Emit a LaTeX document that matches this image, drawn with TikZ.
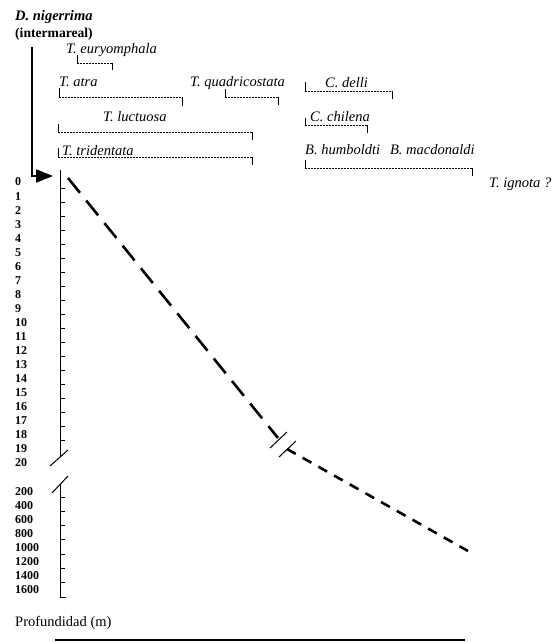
\documentclass[tikz,border=0pt]{standalone}
\usepackage{fontspec}
\setmainfont{Liberation Serif}
\usetikzlibrary{arrows.meta}
\begin{document}
\begin{tikzpicture}[x=1pt,y=-1pt,
  sp/.style={font=\fontsize{14.5}{16}\selectfont\itshape, inner sep=0pt, anchor=base west},
  hd/.style={font=\fontsize{13.6}{15}\selectfont\bfseries, inner sep=0pt, anchor=base west},
  num/.style={font=\fontsize{12}{13}\selectfont\bfseries, inner sep=0pt, anchor=west},
  rng/.style={line width=0.8pt, dash pattern=on 2.2pt off 0.8pt},
  rtick/.style={line width=0.8pt},
  axis/.style={line width=0.9pt},
  brk/.style={line width=1pt},
  longd/.style={line width=2.6pt, dash pattern=on 19pt off 10pt},
  shortd/.style={line width=2.6pt, dash pattern=on 10pt off 8pt}]
\useasboundingbox (0,0) rectangle (557,643);

% range bracket macro: xL, xR, y, ytop, ybot
\newcommand\rangebar[5]{%
  \draw[rtick] (#1,#4) -- (#1,#3);
  \draw[rng] (#1,#3) -- (#2,#3);
  \draw[rtick] (#2,#3) -- (#2,#5);}

% header and arrow
\node[sp, font=\fontsize{14.5}{16}\selectfont\bfseries\itshape] (dn) at (15,20) {D. nigerrima};
\node[hd] (im) at (15,37) {(intermareal)};
\coordinate (a0) at (32,47);
\coordinate (a1) at (32,176);
\coordinate (a2) at (53,176);
\draw[line width=2.4pt, -{Triangle[length=17pt,width=13pt]}] (a0) -- (a1) -- (a2);

% species labels
\node[sp] (eu) at (66,53) {T. euryomphala};
\node[sp] (at) at (59,86) {T. atra};
\node[sp] (qu) at (190,86) {T. quadricostata};
\node[sp] (de) at (325,87) {C. delli};
\node[sp] (ch) at (310,121) {C. chilena};
\node[sp] (lu) at (103,121) {T. luctuosa};
\node[sp] (tr) at (62,155) {T. tridentata};
\node[sp] (bh) at (305,154) {B. humboldti\hspace{10pt}B. macdonaldi};
\node[sp] (ig) at (489,187) {T. ignota ?};

% brackets
\rangebar{77}{112}{63}{55}{70}
\rangebar{59}{182}{97}{88}{106}
\rangebar{225}{278}{97}{89}{105}
\rangebar{305}{392}{91}{82}{99}
\rangebar{305}{367}{125}{118}{133}
\rangebar{58}{252}{132}{124}{140}
\rangebar{58}{252}{157}{148}{165}
\rangebar{305}{472}{168}{160}{176}

% upper axis
\coordinate (ut) at (60,170);
\coordinate (ub) at (60,457);
\draw[axis] (ut) -- (ub);
\foreach \k in {0,...,18} \draw[axis] (60,188+14.05*\k) -- ++(5,0);
\foreach \k in {0,...,20} \node[num] (u\k) at (15,182+14.05*\k) {\k};
\draw[brk] (50,466) -- (68,450);
\draw[brk] (52,493) -- (68,476);

% lower axis
\coordinate (lt) at (60,484);
\coordinate (lb) at (60,597);
\draw[axis] (lt) -- (lb) -- ++(6,0);
\foreach \i in {0,...,6} \draw[axis] (60,497+14.28*\i) -- ++(5,0);
\foreach \v [count=\i from 0] in {200,400,600,800,1000,1200,1400,1600}
  \node[num] (l\i) at (15,492+14*\i) {\v};

\node[font=\fontsize{14.5}{16}\selectfont, inner sep=0pt, anchor=base west] (pf) at (15,626) {Profundidad (m)};

% data line
\coordinate (d0) at (68,178);
\coordinate (d1) at (278,438);
\draw[longd] (d0) -- (d1);
\coordinate (s1a) at (270,448);
\coordinate (s1b) at (287,432);
\coordinate (s2a) at (279,457);
\coordinate (s2b) at (296,441);
\draw[brk] (s1a) -- (s1b);
\draw[brk] (s2a) -- (s2b);
\coordinate (d2) at (287,449);
\coordinate (d3) at (468,551);
\draw[shortd] (d2) -- (d3);

% bottom rule
\coordinate (b0) at (55,640);
\coordinate (b1) at (465,640);
\draw[line width=1.4pt] (b0) -- (b1);
\end{tikzpicture}
\end{document}
